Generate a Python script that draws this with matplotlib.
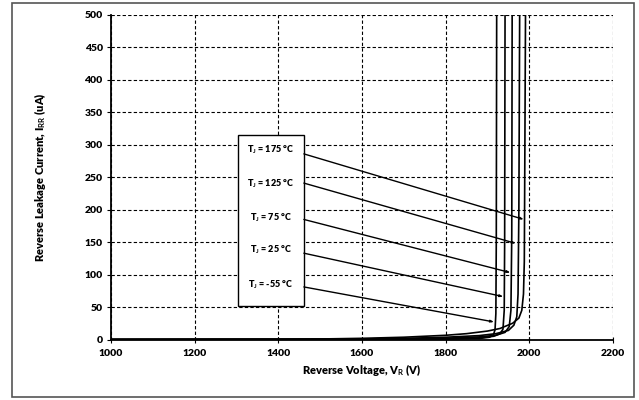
import matplotlib
matplotlib.use("Agg")
import matplotlib.pyplot as plt
from matplotlib.patches import Rectangle

plt.rcParams['font.family'] = ['Lato', 'DejaVu Sans']
plt.rcParams['font.weight'] = 'bold'
plt.rcParams['mathtext.fontset'] = 'custom'
plt.rcParams['mathtext.rm'] = 'Lato:bold'
plt.rcParams['mathtext.it'] = 'Lato:bold'
plt.rcParams['mathtext.bf'] = 'Lato:bold'

# leakage curves (V in volts, I in uA)
v_m55 = [1000, 1800, 1880, 1905, 1914, 1918, 1920, 1921, 1922]
i_m55 = [0, 0.5, 1.5, 3.5, 7, 15, 40, 150, 520]
v_25 = [1000, 1700, 1800, 1880, 1915, 1930, 1937, 1940, 1941, 1942]
i_25 = [0, 0.3, 1.0, 2.5, 5, 9, 16, 45, 150, 520]
v_75 = [1000, 1600, 1700, 1800, 1880, 1920, 1942, 1952, 1956, 1958, 1959]
i_75 = [0, 0.3, 0.8, 2.0, 4.0, 6.5, 11, 20, 45, 160, 520]
v_125 = [1000, 1500, 1600, 1700, 1800, 1880, 1920, 1950, 1963, 1970, 1973, 1975, 1977]
i_125 = [0, 0.3, 0.8, 1.8, 3.5, 6.0, 9.0, 14, 22, 35, 70, 200, 520]
v_175 = [1000, 1400, 1500, 1600, 1700, 1800, 1850, 1900, 1930, 1960, 1975, 1982, 1986, 1988, 1989, 1991]
i_175 = [0, 0.3, 0.8, 1.8, 3.5, 6.5, 9, 13, 17, 25, 33, 45, 70, 120, 250, 520]

curves = [(v_m55, i_m55), (v_25, i_25), (v_75, i_75), (v_125, i_125), (v_175, i_175)]

# callout labels and arrows
labels = ['T$_J$ = 175 °C', 'T$_J$ = 125 °C', 'T$_J$ = 75 °C', 'T$_J$ = 25 °C', 'T$_J$ = -55 °C']
label_y = [293, 240, 188, 138, 85]
arrow_start_y = [286, 241, 185, 133, 81]
arrow_end_v = [1987, 1968, 1955, 1938, 1916]
arrow_end_i = [185, 148, 103, 66, 27]

x_ticks = [1000, 1200, 1400, 1600, 1800, 2000, 2200]
y_ticks = [0, 50, 100, 150, 200, 250, 300, 350, 400, 450, 500]

fig = plt.figure(figsize=(6.39, 4.0), dpi=100)
fig.patches.append(Rectangle((12 / 639, 3 / 400), 622 / 639, 394 / 400, transform=fig.transFigure,
                             fill=False, edgecolor='#555555', lw=1.2))
ax = fig.add_axes([111 / 639, 1 - 339.5 / 400, 502 / 639, 324.5 / 400])

for v, i in curves:
    ax.plot(v, i, color='black', lw=1.2, solid_joinstyle='round')

ax.set_xlim(1000, 2200)
ax.set_ylim(0, 500)
ax.set_xticks(x_ticks)
ax.set_yticks(y_ticks)
ax.grid(True, color='black', linestyle=(0, (3, 2)), lw=0.8)
for s in ['top', 'right']:
    ax.spines[s].set_visible(False)
for s in ['left', 'bottom']:
    ax.spines[s].set_linewidth(1.3)
ax.tick_params(axis='y', direction='out', length=3, labelsize=7.5, pad=3)
ax.tick_params(axis='x', direction='inout', length=5, labelsize=7.5, pad=4)
for t in ax.get_xticklabels() + ax.get_yticklabels():
    t.set_fontweight(800)
ax.set_xlabel('Reverse Voltage, V$_R$ (V)', fontsize=8, fontweight=800, labelpad=3)
ax.set_ylabel('Reverse Leakage Current, I$_{RR}$ (uA)', fontsize=8, fontweight=800, labelpad=26)

box_x0, box_x1 = 1303, 1461
ax.add_patch(Rectangle((box_x0, 51.5), box_x1 - box_x0, 263.5, facecolor='white',
                       edgecolor='black', lw=1.0, zorder=3))
for lab, ly in zip(labels, label_y):
    ax.text((box_x0 + box_x1) / 2, ly, lab, ha='center', va='center', fontsize=6.5,
            fontweight=800, zorder=4)
for sy, ev, ei in zip(arrow_start_y, arrow_end_v, arrow_end_i):
    ax.annotate('', xy=(ev, ei), xytext=(box_x1, sy), zorder=4,
                arrowprops=dict(arrowstyle='-|>,head_length=0.18,head_width=0.06',
                                color='black', lw=1.0, shrinkA=0, shrinkB=0))

fig.savefig('out.png', dpi=100)
